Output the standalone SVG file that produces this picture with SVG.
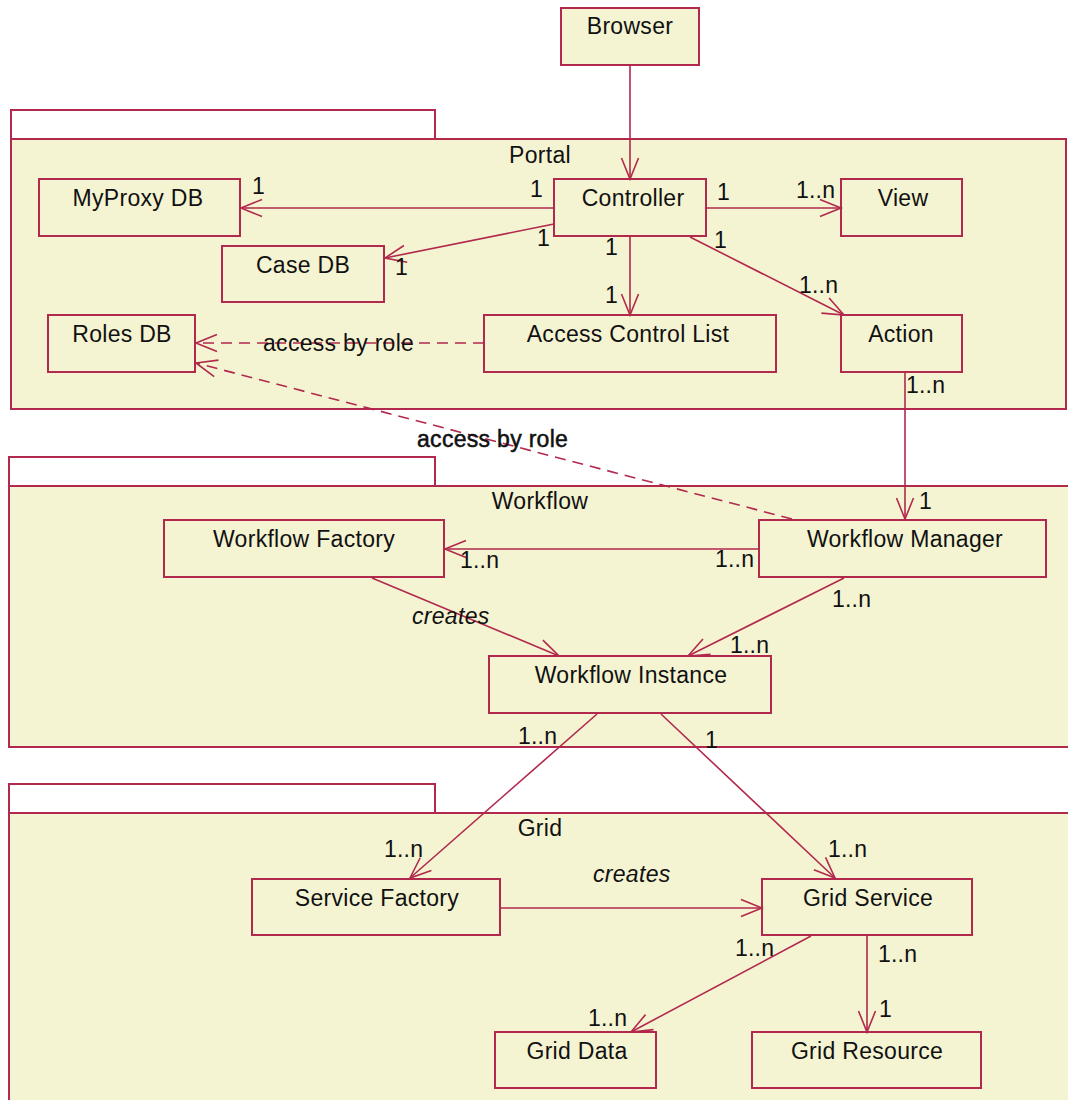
<svg xmlns="http://www.w3.org/2000/svg" width="1068" height="1100" viewBox="0 0 1068 1100">
  <style>
    .pkg { fill: #F5F4D2; stroke: #B1294C; stroke-width: 2; }
    .tab { fill: #FFFFFF; stroke: #B1294C; stroke-width: 2; }
    .box { fill: #F5F4D2; stroke: #B1294C; stroke-width: 2; }
    .name { font-family: "Liberation Sans", Arial, sans-serif; font-size: 23px; letter-spacing: 0.3px; fill: #111; text-anchor: middle; }
    .lbl { font-family: "Liberation Sans", Arial, sans-serif; font-size: 23px; letter-spacing: 0.2px; fill: #111; }
    .rel { font-family: "Liberation Sans", Arial, sans-serif; font-size: 23px; letter-spacing: 0.3px; fill: #111; }
    .bold { stroke: #111; stroke-width: 0.5px; }
    .it { font-style: italic; }
    .edge { fill: none; stroke: #B1294C; stroke-width: 1.6; }
    .dash { stroke-dasharray: 11 7; }
  </style>
  <defs>
    <marker id="open" markerUnits="userSpaceOnUse" markerWidth="26" markerHeight="22" refX="21" refY="8.5" orient="auto" overflow="visible">
      <path d="M0,0 L21,8.5 L0,17" fill="none" stroke="#B1294C" stroke-width="1.6" stroke-dasharray="none"/>
    </marker>
  </defs>

  <!-- packages -->
  <g id="pkg-portal">
    <rect class="tab" x="11" y="110" width="424" height="29"/>
    <rect class="pkg" x="11" y="139" width="1055" height="270"/>
    <text class="name" x="540" y="163">Portal</text>
  </g>
  <g id="pkg-workflow">
    <rect class="tab" x="9" y="457" width="426" height="29"/>
    <rect class="pkg" x="9" y="486" width="1080" height="261"/>
    <text class="name" x="540" y="509">Workflow</text>
  </g>
  <g id="pkg-grid">
    <rect class="tab" x="9" y="784" width="426" height="29"/>
    <rect class="pkg" x="9" y="813" width="1080" height="300"/>
    <text class="name" x="540" y="836">Grid</text>
  </g>

  <!-- classes -->
  <g id="browser"><rect class="box" x="561" y="8" width="138" height="57"/><text class="name" x="630" y="34">Browser</text></g>
  <g id="myproxy-db"><rect class="box" x="39" y="179" width="201" height="57"/><text class="name" x="138" y="206">MyProxy DB</text></g>
  <g id="controller"><rect class="box" x="554" y="179" width="152" height="57"/><text class="name" x="633" y="206">Controller</text></g>
  <g id="view"><rect class="box" x="841" y="179" width="121" height="57"/><text class="name" x="903" y="206">View</text></g>
  <g id="case-db"><rect class="box" x="222" y="246" width="162" height="56"/><text class="name" x="303" y="273">Case DB</text></g>
  <g id="roles-db"><rect class="box" x="48" y="315" width="147" height="57"/><text class="name" x="122" y="342">Roles DB</text></g>
  <g id="access-control-list"><rect class="box" x="484" y="315" width="292" height="57"/><text class="name" x="628" y="342">Access Control List</text></g>
  <g id="action"><rect class="box" x="841" y="315" width="121" height="57"/><text class="name" x="901" y="342">Action</text></g>
  <g id="workflow-factory"><rect class="box" x="164" y="520" width="280" height="57"/><text class="name" x="304" y="547">Workflow Factory</text></g>
  <g id="workflow-manager"><rect class="box" x="759" y="520" width="287" height="57"/><text class="name" x="905" y="547">Workflow Manager</text></g>
  <g id="workflow-instance"><rect class="box" x="489" y="656" width="282" height="57"/><text class="name" x="631" y="683">Workflow Instance</text></g>
  <g id="service-factory"><rect class="box" x="252" y="879" width="248" height="56"/><text class="name" x="377" y="906">Service Factory</text></g>
  <g id="grid-service"><rect class="box" x="762" y="879" width="210" height="56"/><text class="name" x="868" y="906">Grid Service</text></g>
  <g id="grid-data"><rect class="box" x="495" y="1032" width="161" height="56"/><text class="name" x="577" y="1059">Grid Data</text></g>
  <g id="grid-resource"><rect class="box" x="752" y="1032" width="229" height="56"/><text class="name" x="867" y="1059">Grid Resource</text></g>

  <!-- associations and dependencies -->
  <g id="connectors">
    <line class="edge" x1="630" y1="65" x2="630" y2="179" marker-end="url(#open)"/>
    <line class="edge" x1="554" y1="208" x2="241" y2="208" marker-end="url(#open)"/>
    <line class="edge" x1="554" y1="224" x2="385" y2="258" marker-end="url(#open)"/>
    <line class="edge" x1="706" y1="208" x2="841" y2="208" marker-end="url(#open)"/>
    <line class="edge" x1="630" y1="236" x2="630" y2="315" marker-end="url(#open)"/>
    <line class="edge" x1="690" y1="237" x2="844" y2="315" marker-end="url(#open)"/>
    <line class="edge dash" x1="484" y1="343" x2="196" y2="343" marker-end="url(#open)"/>
    <line class="edge dash" x1="792" y1="519" x2="196" y2="363" marker-end="url(#open)"/>
    <line class="edge" x1="905" y1="372" x2="905" y2="519" marker-end="url(#open)"/>
    <line class="edge" x1="759" y1="549" x2="445" y2="549" marker-end="url(#open)"/>
    <line class="edge" x1="372" y1="578" x2="559" y2="656" marker-end="url(#open)"/>
    <line class="edge" x1="844" y1="578" x2="688" y2="656" marker-end="url(#open)"/>
    <line class="edge" x1="597" y1="714" x2="410" y2="878" marker-end="url(#open)"/>
    <line class="edge" x1="661" y1="714" x2="835" y2="878" marker-end="url(#open)"/>
    <line class="edge" x1="500" y1="908" x2="762" y2="908" marker-end="url(#open)"/>
    <line class="edge" x1="811" y1="936" x2="631" y2="1032" marker-end="url(#open)"/>
    <line class="edge" x1="867" y1="936" x2="867" y2="1032" marker-end="url(#open)"/>

    <!-- multiplicities -->
    <text class="lbl" x="252" y="194">1</text>
    <text class="lbl" x="530" y="197">1</text>
    <text class="lbl" x="537" y="246">1</text>
    <text class="lbl" x="395" y="275">1</text>
    <text class="lbl" x="717" y="200">1</text>
    <text class="lbl" x="796" y="198">1..n</text>
    <text class="lbl" x="605" y="255">1</text>
    <text class="lbl" x="605" y="303">1</text>
    <text class="lbl" x="714" y="248">1</text>
    <text class="lbl" x="799" y="293">1..n</text>
    <text class="lbl" x="906" y="393">1..n</text>
    <text class="lbl" x="919" y="509">1</text>
    <text class="lbl" x="460" y="568">1..n</text>
    <text class="lbl" x="715" y="567">1..n</text>
    <text class="lbl" x="832" y="607">1..n</text>
    <text class="lbl" x="730" y="653">1..n</text>
    <text class="lbl" x="518" y="744">1..n</text>
    <text class="lbl" x="705" y="748">1</text>
    <text class="lbl" x="384" y="857">1..n</text>
    <text class="lbl" x="828" y="857">1..n</text>
    <text class="lbl" x="735" y="956">1..n</text>
    <text class="lbl" x="588" y="1026">1..n</text>
    <text class="lbl" x="878" y="962">1..n</text>
    <text class="lbl" x="879" y="1017">1</text>

    <!-- relation names -->
    <text class="rel" x="263" y="351">access by role</text>
    <text class="rel bold" x="417" y="447">access by role</text>
    <text class="rel it" x="412" y="624">creates</text>
    <text class="rel it" x="593" y="882">creates</text>
  </g>
</svg>
